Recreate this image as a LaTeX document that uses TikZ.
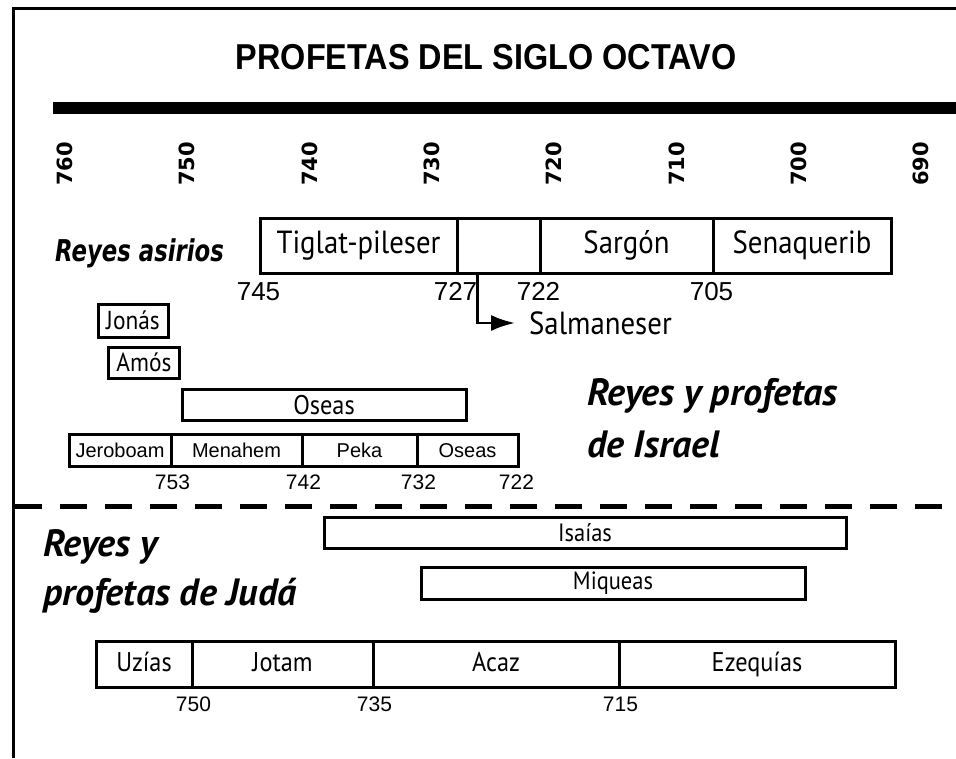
\documentclass[tikz,border=0pt]{standalone}
\usepackage{fontspec}
\setmainfont{PT Sans}[FakeStretch=0.9]
\newfontfamily\headsans{PT Sans}
\newfontfamily\arialfont{Liberation Sans}
\newfontfamily\titlefont{Liberation Sans}[FakeStretch=0.9]
\newfontfamily\yearfont{DejaVu Sans}
\newfontfamily\asirfont{DejaVu Sans}[FakeStretch=0.76]
\usetikzlibrary{positioning,arrows.meta}

\begin{document}
\begin{tikzpicture}[x=1pt,y=-1pt,
    rowbox/.style={draw,line width=3pt,inner sep=0pt},
    decade/.style={rotate=90,inner sep=0pt,font=\yearfont\bfseries\fontsize{21}{21}\selectfont},
    yrbig/.style={inner sep=0pt,font=\arialfont\fontsize{26}{26}\selectfont},
    yrsmall/.style={inner sep=0pt,font=\arialfont\fontsize{21}{21}\selectfont},
    heading/.style={inner sep=0pt,anchor=base west,font=\headsans\bfseries\itshape\fontsize{38}{38}\selectfont}]
        \useasboundingbox (0,0) rectangle (956,758);
        % frame and time bar
        \draw[line width=3pt] (13.5,758) -- (13.5,8.5) -- (956,8.5);
        \node[inner sep=0pt,font=\titlefont\bfseries\fontsize{36}{36}\selectfont] (title) at (486,57) {PROFETAS DEL SIGLO OCTAVO};
        \draw[line width=12pt] (53,108) -- (956,108);
        % decades
        \foreach \yr [count=\k from 0] in {760,750,...,690} {\node[decade] (d\yr) at (65+122.3*\k,164) {\yr};}
        % assyrian kings
        \node[inner sep=0pt,anchor=base west,font=\asirfont\bfseries\itshape\fontsize{30}{30}\selectfont] (asirios) at (55,261) {Reyes asirios};
        \foreach \a/\b/\nm/\txt in {260/457/tiglat/Tiglat-pileser,457/540/salmblank/{},540/713/sargon/Sargón,713/891/senaquerib/Senaquerib}
            {\node[rowbox,font=\fontsize{32}{32}\selectfont,minimum width=\b-\a,minimum height=55] (\nm) at ({(\a+\b)/2},245.5) {\txt};}
        \node[yrbig,below=8pt of tiglat.south west] (y745) {745};
        \node[yrbig,below=8pt of salmblank.south west] (y727) {727};
        \node[yrbig,below=8pt of sargon.south west] (y722a) {722};
        \node[yrbig,below=8pt of senaquerib.south west] (y705) {705};
        \coordinate (salmtop) at ([xshift=22pt]salmblank.south west);
        \node[anchor=west,inner sep=0pt,inner xsep=14pt,font=\fontsize{32}{32}\selectfont] (salmaneser) at (515,323) {Salmaneser};
        \draw[line width=2.6pt,-{Latex[length=24pt,width=16pt]}] (salmtop) |- (salmaneser.west);
        % israel
        \node[rowbox,font=\fontsize{26}{26}\selectfont,minimum width=70,minimum height=33] (jonas) at (133,320.5) {Jonás};
        \node[rowbox,font=\fontsize{26}{26}\selectfont,minimum width=71,minimum height=31] (amos) at (144,362.5) {Amós};
        \node[rowbox,font=\fontsize{27}{27}\selectfont,minimum width=284,minimum height=31] (oseas) at (324,405) {Oseas};
        \foreach \a/\b/\nm/\txt in {69/171/jeroboam/Jeroboam,171/302/menahem/Menahem,302/417/peka/Peka,417/518/oseasrey/Oseas}
            {\node[rowbox,font=\arialfont\fontsize{20}{20}\selectfont,minimum width=\b-\a,minimum height=32] (\nm) at ({(\a+\b)/2},450.5) {\txt};}
        \node[yrsmall,below=7pt of jeroboam.south east] (y753) {753};
        \node[yrsmall,below=7pt of menahem.south east] (y742) {742};
        \node[yrsmall,below=7pt of peka.south east] (y732) {732};
        \node[yrsmall,below=7pt of oseasrey.south east,xshift=-3pt] (y722b) {722};
        \node[heading] (israelA) at (587,405) {Reyes y profetas};
        \node[heading] (israelB) at (587,457) {de Israel};
        % dividing line
        \draw[line width=5pt,dash pattern=on 27pt off 18pt] (15,506) -- (956,506);
        % juda
        \node[heading] (judaA) at (43,556) {Reyes y};
        \node[heading] (judaB) at (43,605) {profetas de Judá};
        \node[rowbox,font=\fontsize{25}{25}\selectfont,minimum width=522,minimum height=31] (isaias) at (585,533) {Isaías};
        \node[rowbox,font=\fontsize{25}{25}\selectfont,minimum width=384,minimum height=32] (miqueas) at (613,583) {Miqueas};
        \foreach \a/\b/\nm/\txt in {96/192/uzias/Uzías,192/373/jotam/Jotam,373/619/acaz/Acaz,619/895/ezequias/Ezequías}
            {\node[rowbox,font=\fontsize{27}{27}\selectfont,text height=20pt,text depth=6pt,minimum width=\b-\a,minimum height=46] (\nm) at ({(\a+\b)/2},664) {\txt};}
        \node[yrsmall,below=8pt of uzias.south east] (y750) {750};
        \node[yrsmall,below=8pt of jotam.south east] (y735) {735};
        \node[yrsmall,below=8pt of acaz.south east] (y715) {715};
    \end{tikzpicture}
\end{document}
